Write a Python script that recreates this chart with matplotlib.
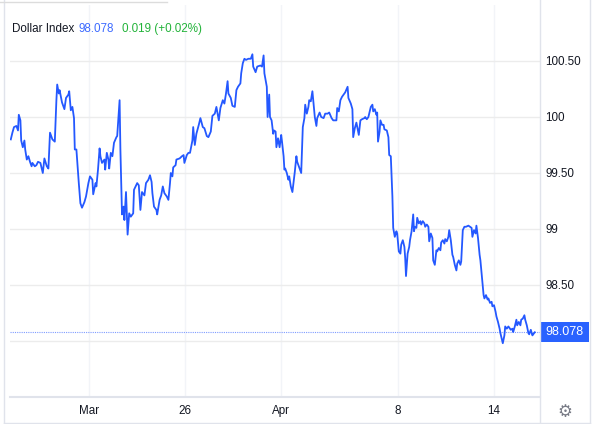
import matplotlib
matplotlib.use("Agg")
import matplotlib.pyplot as plt
import matplotlib.transforms as mtransforms
from matplotlib.lines import Line2D
from matplotlib.patches import Rectangle

plt.rcParams['font.family'] = ['Liberation Sans', 'DejaVu Sans']

# hours since the first point on the chart
hours = [1, 3, 5, 8, 10, 11, 13, 14, 16, 18, 19, 21, 23, 25, 27, 28, 31, 33, 35, 38,
         41, 43, 46, 48, 50, 53, 56, 58, 59, 61, 62, 65, 68, 70, 73, 74, 76, 78, 80, 81,
         83, 86, 88, 90, 93, 95, 98, 100, 103, 104, 107, 108, 110, 112, 113, 115, 118, 119, 121, 123,
         124, 126, 128, 130, 133, 134, 137, 138, 140, 142, 143, 145, 147, 149, 151, 154, 155, 159, 161, 163,
         165, 168, 170, 173, 175, 177, 178, 180, 183, 184, 187, 189, 191, 193, 196, 198, 200, 201, 203, 204,
         207, 208, 212, 215, 217, 218, 221, 223, 225, 228, 229, 231, 233, 236, 238, 241, 243, 246, 248, 251,
         253, 256, 258, 261, 263, 266, 268, 270, 272, 273, 276, 278, 281, 283, 285, 288, 289, 291, 293, 295,
         298, 301, 303, 304, 307, 309, 313, 315, 317, 318, 321, 322, 324, 325, 327, 329, 330, 332, 333, 335,
         337, 339, 340, 342, 343, 344, 346, 348, 349, 351, 353, 354, 356, 358, 359, 362, 364, 366, 368, 369,
         371, 373, 374, 376, 378, 379, 381, 383, 384, 387, 389, 392, 394, 397, 399, 402, 404, 408, 409, 411,
         413, 415, 417, 419, 422, 423, 426, 428, 429, 431, 433, 436, 438, 440, 443, 444, 446, 448, 451, 453,
         454, 456, 458, 459, 460, 462, 463, 465, 467, 468, 471, 473, 474, 476, 478, 479, 481, 483, 484, 486,
         488, 489, 491, 493, 494, 495, 497, 499, 500, 502, 504, 505, 506, 508, 509, 511, 513, 514, 516, 518,
         519, 521, 523, 524, 526, 528, 529, 531, 533, 534, 536, 538, 539, 541, 543, 544, 546, 548, 549, 551,
         553, 554, 556, 558, 559, 561, 563, 564, 566, 568, 570, 573, 575, 577, 578, 580, 582, 583, 585, 587,
         588, 590, 592, 593, 595, 597, 598, 600, 602, 603, 605, 607, 608, 610, 612, 613, 615, 616, 618, 619,
         621, 623, 624, 626, 628, 629, 631, 633, 634, 636, 638, 639, 641, 643, 644, 646, 648, 649, 651, 653,
         654, 656]

dxy = [99.80, 99.86, 99.91, 99.92, 99.88, 100.02, 99.97, 99.79, 99.73, 99.79, 99.71, 99.62, 99.65, 99.60, 99.56, 99.59, 99.56, 99.57, 99.60, 99.59,
       99.50, 99.63, 99.56, 99.54, 99.86, 99.80, 99.78, 100.15, 100.29, 100.21, 100.24, 100.13, 100.07, 100.17, 100.20, 100.23, 100.06, 100.09, 99.99, 99.71,
       99.71, 99.41, 99.23, 99.19, 99.24, 99.29, 99.41, 99.47, 99.44, 99.31, 99.41, 99.38, 99.53, 99.72, 99.65, 99.59, 99.62, 99.53, 99.68, 99.62,
       99.54, 99.68, 99.65, 99.77, 99.82, 99.83, 100.15, 99.71, 99.13, 99.20, 99.08, 99.33, 98.95, 99.14, 99.11, 99.14, 99.35, 99.41, 99.39, 99.17,
       99.33, 99.30, 99.41, 99.44, 99.48, 99.42, 99.32, 99.20, 99.17, 99.13, 99.26, 99.30, 99.38, 99.32, 99.29, 99.26, 99.41, 99.50, 99.47, 99.55,
       99.57, 99.62, 99.63, 99.65, 99.66, 99.59, 99.66, 99.68, 99.68, 99.79, 99.91, 99.75, 99.85, 99.93, 99.99, 99.91, 99.90, 99.83, 99.82, 99.87,
       100.01, 100.03, 100.09, 99.97, 100.08, 100.15, 100.12, 100.21, 100.32, 100.21, 100.17, 100.10, 100.09, 100.24, 100.27, 100.30, 100.39, 100.48, 100.52, 100.51,
       100.52, 100.52, 100.56, 100.45, 100.40, 100.45, 100.46, 100.45, 100.55, 100.39, 100.27, 100.00, 100.20, 100.00, 99.97, 99.85, 99.88, 99.87, 99.73, 99.81,
       99.73, 99.84, 99.78, 99.65, 99.53, 99.54, 99.50, 99.44, 99.47, 99.38, 99.33, 99.39, 99.51, 99.65, 99.60, 99.54, 99.50, 99.91, 99.99, 100.11,
       100.03, 100.09, 100.15, 100.14, 100.23, 100.15, 100.00, 99.92, 99.99, 100.04, 100.00, 99.99, 100.03, 100.03, 100.04, 99.99, 99.97, 99.97, 100.08, 100.05,
       100.15, 100.18, 100.20, 100.22, 100.27, 100.17, 100.12, 100.07, 99.82, 99.90, 99.95, 99.84, 99.97, 99.98, 99.99, 100.00, 99.98, 100.00, 100.09, 100.11,
       100.05, 100.07, 100.02, 100.04, 99.78, 99.87, 99.97, 99.93, 99.93, 99.89, 99.88, 99.82, 99.66, 99.65, 99.29, 99.01, 98.93, 98.98, 98.96, 98.80,
       98.78, 98.86, 98.90, 98.84, 98.74, 98.58, 98.78, 98.84, 98.90, 98.98, 99.13, 98.98, 99.02, 99.01, 99.10, 99.05, 99.07, 99.04, 99.07, 99.05,
       99.02, 99.04, 99.02, 98.89, 98.96, 98.92, 98.72, 98.68, 98.81, 98.80, 98.83, 98.81, 98.88, 98.90, 98.87, 98.91, 98.89, 98.93, 98.99, 98.90,
       98.77, 98.75, 98.68, 98.63, 98.69, 98.72, 98.68, 98.71, 98.99, 99.02, 99.02, 99.03, 99.02, 99.01, 98.93, 98.99, 98.96, 99.03, 98.92, 98.77,
       98.72, 98.57, 98.41, 98.38, 98.41, 98.37, 98.38, 98.34, 98.35, 98.31, 98.32, 98.26, 98.22, 98.17, 98.11, 98.07, 98.01, 97.98, 98.05, 98.13,
       98.11, 98.13, 98.12, 98.10, 98.11, 98.08, 98.13, 98.19, 98.14, 98.17, 98.14, 98.19, 98.20, 98.23, 98.19, 98.14, 98.07, 98.06, 98.10, 98.05,
       98.06, 98.078]

last_price = 98.078
change = "0.019 (+0.02%)"

tick_hours = [99, 219, 339, 485, 605]
tick_labels = ['Mar', '26', 'Apr', '8', '14']
price_ticks = [98, 98.5, 99, 99.5, 100, 100.5]
price_labels = ['', '98.50', '99', '99.50', '100', '100.50']

line_blue = '#2458ff'
fs = 8.4

fig = plt.figure(figsize=(6, 4.24), dpi=100)
ax = fig.add_axes([10 / 600, 27 / 424, 530 / 600, 392 / 424])

ax.plot(hours, dxy, color=line_blue, lw=1.3, solid_joinstyle='round', zorder=3)
ax.axhline(last_price, color='#7f9cff', lw=0.8, ls=(0, (1, 1)), zorder=2)

ax.set_xlim(0, 662.5)
ax.set_ylim(97.5, 101.0)
ax.set_xticks(tick_hours)
ax.set_xticklabels(tick_labels)
ax.set_yticks(price_ticks)
ax.set_yticklabels(price_labels)
ax.yaxis.tick_right()
ax.tick_params(axis='both', length=0, labelsize=fs, colors='#131722')
ax.tick_params(axis='y', pad=4)
ax.tick_params(axis='x', pad=6)
ax.grid(axis='y', color='#ececec', lw=1.0)
ax.grid(axis='x', color='#f2f4f8', lw=1.0)
for side in ['top', 'left', 'right']:
    ax.spines[side].set_visible(False)
ax.spines['bottom'].set_color('#e0e3eb')
ax.spines['bottom'].set_linewidth(1.5)

# price label on the right scale
trans = mtransforms.blended_transform_factory(ax.transAxes, ax.transData)
ax.add_patch(Rectangle((1.0, last_price - 0.09), 49 / 530, 0.18, transform=trans,
                       facecolor='#2962ff', edgecolor='none', clip_on=False, zorder=5))
ax.text(1.0 + 24.5 / 530, last_price, f'{last_price:.3f}', transform=trans, color='white',
        fontsize=fs + 0.6, ha='center', va='center', zorder=6, clip_on=False)

# header
fig.text(11.7 / 600, 1 - 29 / 424, 'Dollar Index', fontsize=fs, color='#131722', va='center')
fig.text(78.7 / 600, 1 - 29 / 424, f'{last_price:.3f}', fontsize=fs, color='#3d6bff', va='center')
fig.text(122 / 600, 1 - 29 / 424, change, fontsize=fs, color='#23b33a', va='center')

# frame lines
border = '#e0e3eb'
fig.add_artist(Line2D([540 / 600, 540 / 600], [0, 1], color=border, lw=1.0))
fig.add_artist(Line2D([590 / 600, 590 / 600], [0, 1], color=border, lw=1.0))
fig.add_artist(Line2D([3.5 / 600, 3.5 / 600], [0, 1], color=border, lw=1.0))
fig.add_artist(Line2D([3.5 / 600, 590 / 600], [1.2 / 424, 1.2 / 424], color=border, lw=1.0))
fig.add_artist(Line2D([0, 167 / 600], [1 - 1.5 / 424, 1 - 1.5 / 424], color='#dcdcdc', lw=1.0))

# settings gear
fig.text(565 / 600, 12 / 424, '\u2699', fontsize=12, color='#787b86', ha='center', va='center',
         family='DejaVu Sans')

fig.savefig('out.png', dpi=100, facecolor='white')
